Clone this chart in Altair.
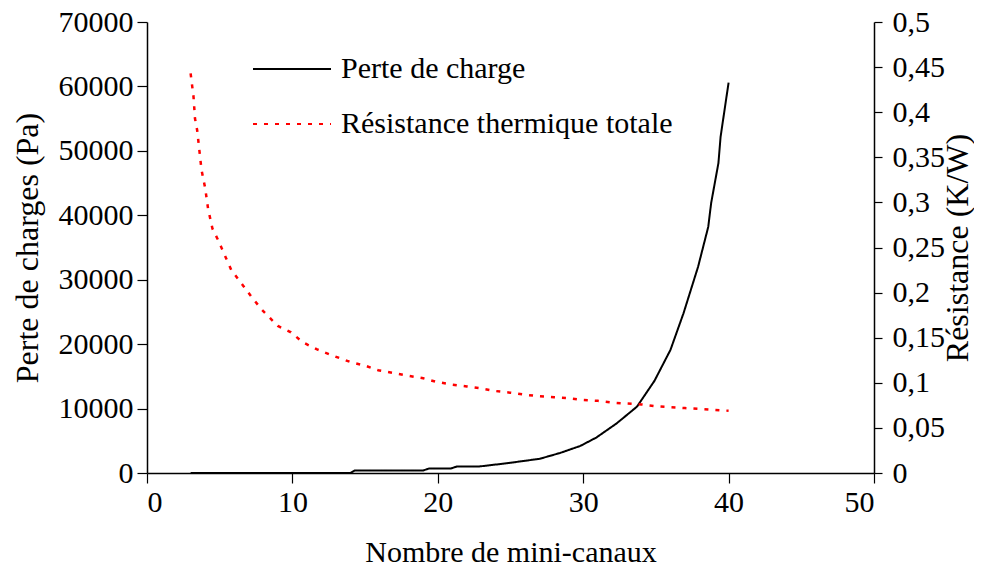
import altair as alt
import pandas as pd

# Perte de charge (Pa) vs nombre de mini-canaux
n_dp = [3, 14.0, 14.3, 19.0, 19.4, 20.9, 21.3, 22.8, 24.7, 27.0, 28.4, 29.8, 30.9,
        32.3, 33.7, 34.9, 36.0, 36.9, 37.9, 38.6, 38.8, 39.3, 39.45, 40.0]
dp = [0, 0, 400, 400, 700, 700, 1000, 1000, 1500, 2200, 3100, 4200, 5500,
      7700, 10300, 14300, 19100, 24800, 32000, 38200, 41900, 48100, 52200, 60600]

# Résistance thermique totale (K/W)
n_r = [3.0, 3.2, 3.3, 3.45, 3.6, 3.75, 4.0, 4.2, 4.5, 4.9, 5.25, 5.8, 6.6, 7.2, 7.9,
       9.0, 9.9, 10.7, 11.7, 12.8, 14.0, 15.0, 15.9, 16.9, 17.9, 19.0, 19.9, 21.0,
       22.0, 22.9, 23.9, 25.0, 25.9, 27.0, 28.0, 29.0, 30.0, 31.0, 32.0, 33.0, 34.0,
       35.0, 36.0, 37.0, 38.0, 39.0, 40.0]
res = [0.443, 0.417, 0.393, 0.380, 0.358, 0.336, 0.316, 0.293, 0.271, 0.258, 0.245,
       0.225, 0.208, 0.195, 0.181, 0.163, 0.156, 0.145, 0.137, 0.130, 0.123, 0.119,
       0.114, 0.111, 0.108, 0.105, 0.101, 0.098, 0.096, 0.094, 0.091, 0.089, 0.087,
       0.085, 0.084, 0.083, 0.081, 0.080, 0.078, 0.077, 0.076, 0.074, 0.073, 0.072,
       0.071, 0.070, 0.069]

series = ["Perte de charge", "Résistance thermique totale"]
colors = ["black", "red"]
dashes = [[1, 0], [4, 7]]

x_ticks = [0, 10, 20, 30, 40, 50]
left_ticks = [0, 10000, 20000, 30000, 40000, 50000, 60000, 70000]
right_ticks = [0, 0.05, 0.1, 0.15, 0.2, 0.25, 0.3, 0.35, 0.4, 0.45, 0.5]

FONT = "Liberation Serif"
FS = 30

df_dp = pd.DataFrame({"N": n_dp, "val": dp, "serie": series[0]})
df_r = pd.DataFrame({"N": n_r, "val": res, "serie": series[1]})

legend = alt.Legend(
    title=None, orient="none", legendX=105, legendY=7, padding=0,
    symbolType="stroke", symbolSize=6084, symbolStrokeWidth=2,
    rowPadding=-17, labelFontSize=FS, labelFont=FONT, labelColor="black",
    labelOffset=9, labelLimit=500,
)
color = alt.Color("serie:N", scale=alt.Scale(domain=series, range=colors), legend=legend)
dash = alt.StrokeDash("serie:N", scale=alt.Scale(domain=series, range=dashes), legend=legend)

x_enc = alt.X(
    "N:Q",
    scale=alt.Scale(domain=[0, 50], nice=False),
    axis=alt.Axis(values=x_ticks, title="Nombre de mini-canaux", grid=False,
                  tickSize=10, labelPadding=4, titlePadding=20, titleFontSize=30),
)

left = alt.Chart(df_dp).mark_line(strokeWidth=2).encode(
    x=x_enc,
    y=alt.Y("val:Q", scale=alt.Scale(domain=[0, 70000], nice=False),
            axis=alt.Axis(values=left_ticks, format="d", title="Perte de charges (Pa)",
                          grid=False, tickSize=10, labelPadding=4, titlePadding=14,
                          titleFontSize=32)),
    color=color, strokeDash=dash,
)

right = alt.Chart(df_r).mark_line(strokeWidth=2.5).encode(
    x=x_enc,
    y=alt.Y("val:Q", scale=alt.Scale(domain=[0, 0.5], nice=False),
            axis=alt.Axis(orient="right", values=right_ticks,
                          labelExpr="replace(toString(datum.value), '.', ',')",
                          title="Résistance (K/W)", titleAngle=270, grid=False,
                          tickSize=8, labelPadding=10, titlePadding=30,
                          titleFontSize=32)),
    color=color, strokeDash=dash,
)

chart = alt.layer(left, right).resolve_scale(y="independent").properties(
    width=727, height=451,
    padding={"left": 139, "top": 14, "right": 100, "bottom": 95},
    autosize="none",
).configure_view(stroke=None).configure_axis(
    labelFont=FONT, titleFont=FONT, labelFontSize=FS,
    titleFontWeight="normal", labelColor="black", titleColor="black",
    domainColor="black", tickColor="black", domainWidth=1.5, tickWidth=1.2,
)

chart.save("out.html", embed_options={"renderer": "svg", "actions": False})
